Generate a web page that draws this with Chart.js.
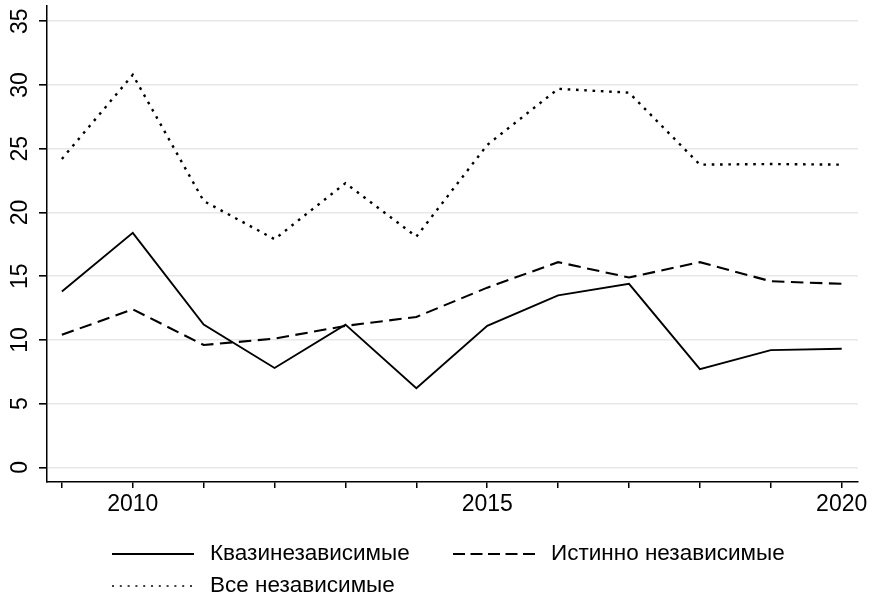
<!DOCTYPE html>
<html>
<head>
<meta charset="utf-8">
<script src="https://cdn.jsdelivr.net/npm/chart.js@4.4.0/dist/chart.umd.min.js"></script>
<style>
  html, body { margin: 0; padding: 0; background: #fff; }
  #wrap { width: 873px; height: 598px; }
</style>
</head>
<body>
<div id="wrap"><canvas id="grafico" width="873" height="598"></canvas></div>
<script>
const anos = [2009, 2010, 2011, 2012, 2013, 2014, 2015, 2016, 2017, 2018, 2019, 2020];
const kvazi = [13.8, 18.4, 11.2, 7.8, 11.2, 6.2, 11.1, 13.5, 14.4, 7.7, 9.2, 9.3];
const istinno = [10.4, 12.4, 9.6, 10.1, 11.1, 11.8, 14.1, 16.1, 14.9, 16.1, 14.6, 14.4];
const vse = [24.2, 30.8, 20.9, 17.9, 22.3, 18.1, 25.3, 29.7, 29.4, 23.75, 23.8, 23.75];
const yTicks = [0, 5, 10, 15, 20, 25, 30, 35];
const xLabels = [2010, 2015, 2020];

const fonte = '"Liberation Sans", Arial, sans-serif';

function pontos(valores) {
    return anos.map((a, i) => ({ x: a, y: valores[i] }));
}

// legenda desenhada à mão: duas colunas, segunda linha alinhada à esquerda
const legendaPlugin = {
    id: 'legenda',
    afterDraw(chart) {
        const ctx = chart.ctx;
        const pos = [[112, 554], [453, 554], [112, 586]];
        ctx.save();
        ctx.font = '22.5px ' + fonte;
        ctx.textBaseline = 'middle';
        ctx.textAlign = 'left';
        chart.data.datasets.forEach((ds, i) => {
            const [x, y] = pos[i];
            ctx.beginPath();
            ctx.strokeStyle = '#000';
            ctx.lineWidth = ds.legendWidth;
            ctx.setLineDash(ds.legendDash);
            ctx.moveTo(x, y);
            ctx.lineTo(x + 82, y);
            ctx.stroke();
            ctx.setLineDash([]);
            ctx.fillStyle = '#000';
            ctx.fillText(ds.label, x + 98, y);
        });
        ctx.restore();
    }
};

const ctx = document.getElementById('grafico').getContext('2d');
const grafico = new Chart(ctx, {
    type: 'line',
    data: {
        datasets: [{
            label: 'Квазинезависимые',
            data: pontos(kvazi),
            borderColor: '#000',
            borderWidth: 1.9,
            legendWidth: 1.8,
            legendDash: []
        }, {
            label: 'Истинно независимые',
            data: pontos(istinno),
            borderColor: '#000',
            borderWidth: 2.1,
            borderDash: [12.5, 6.5],
            legendWidth: 1.8,
            legendDash: [12, 5.5]
        }, {
            label: 'Все независимые',
            data: pontos(vse),
            borderColor: '#000',
            borderWidth: 2.4,
            borderDash: [2.6, 5.7],
            legendWidth: 1.7,
            legendDash: [2, 5.8]
        }]
    },
    options: {
        responsive: false,
        animation: false,
        events: [],
        layout: { padding: { left: 0, top: 6, right: 15, bottom: 76 } },
        elements: {
            point: { radius: 0 },
            line: { tension: 0, fill: false }
        },
        plugins: {
            legend: { display: false },
            tooltip: { enabled: false }
        },
        scales: {
            x: {
                type: 'linear',
                min: 2008.79,
                max: 2020.23,
                afterBuildTicks: s => { s.ticks = anos.map(v => ({ value: v })); },
                afterFit: s => { s.height = 40; s.paddingLeft = 0; s.paddingRight = 0; },
                grid: {
                    drawOnChartArea: false,
                    tickLength: 6,
                    tickColor: '#000',
                    lineWidth: 1.5
                },
                border: { color: '#000', width: 1.5 },
                ticks: {
                    autoSkip: false,
                    maxRotation: 0,
                    padding: 3,
                    color: '#000',
                    font: { family: fonte, size: 23 },
                    callback: v => xLabels.includes(v) ? String(v) : ''
                }
            },
            y: {
                min: -1.15,
                max: 36.2,
                afterBuildTicks: s => { s.ticks = yTicks.map(v => ({ value: v })); },
                afterFit: s => { s.width = 47; s.paddingTop = 0; s.paddingBottom = 0; },
                grid: {
                    color: '#e8e8e8',
                    lineWidth: 1.6,
                    tickLength: 8,
                    tickColor: '#000'
                },
                border: { color: '#000', width: 1.5 },
                ticks: {
                    minRotation: 90,
                    maxRotation: 90,
                    crossAlign: 'center',
                    padding: 6,
                    color: '#000',
                    font: { family: fonte, size: 23 },
                    callback: v => String(v)
                }
            }
        }
    },
    plugins: [legendaPlugin]
});
</script>
</body>
</html>
